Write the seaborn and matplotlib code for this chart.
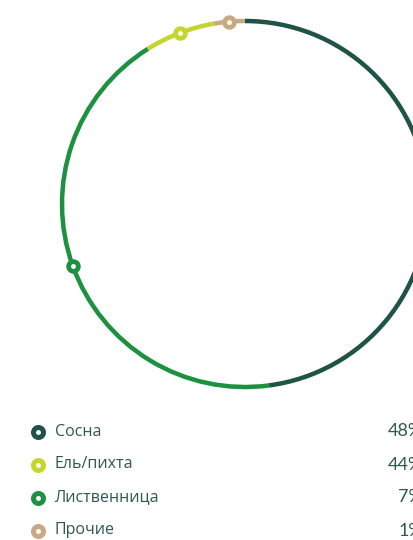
import numpy as np
import pandas as pd
import matplotlib
matplotlib.use("Agg")
import matplotlib.pyplot as plt
import seaborn as sns

# ---- data ----
categories = ["Сосна", "Ель/пихта", "Лиственница", "Прочие"]
percent_labels = ["48%", "44%", "7%", "1%"]
legend_colors = ["#1e5346", "#c4d52b", "#1c9140", "#c7a983"]
# ring as drawn in the picture (shares of the full circle, clockwise from top)
ring_shares = [47.9, 43.2, 6.2, 2.7]
ring_colors = ["#1e5346", "#1c9140", "#c4d52b", "#c7a983"]

sns.set_theme(style="white")
plt.rcParams["font.family"] = ["Open Sans", "DejaVu Sans"]

W, H = 414, 540
fig = plt.figure(figsize=(W / 100, H / 100), dpi=100)
ax = fig.add_axes([0, 0, 1, 1])

cx, cy, r, lw = 245, H - 204, 183, 4.5
ax.pie(ring_shares, colors=ring_colors, startangle=90, counterclock=False,
       center=(cx, cy), radius=r + lw / 2,
       wedgeprops=dict(width=lw, linewidth=0, antialiased=True))
ax.set_xlim(0, W)
ax.set_ylim(0, H)
ax.set_aspect("auto")
ax.axis("off")

# markers at segment midpoints
shares = np.array(ring_shares)
mids = (np.cumsum(shares) - shares / 2) / shares.sum() * 2 * np.pi
mx = cx + r * np.sin(mids)
my = cy + r * np.cos(mids)
for i in range(1, len(shares)):
    ax.plot(mx[i], my[i], marker="o", markersize=7.0, markeredgewidth=3.4,
            markerfacecolor="white", markeredgecolor=ring_colors[i], zorder=5)

# legend
leg_y0, step = H - 431.5, 33
df = pd.DataFrame({"label": categories, "x": 37.7,
                   "y": [leg_y0 - i * step for i in range(len(categories))]})
for i, row in df.iterrows():
    ax.plot(row["x"], row["y"], marker="o", markersize=7.2, markeredgewidth=3.6,
            markerfacecolor="white", markeredgecolor=legend_colors[i],
            zorder=5, clip_on=False)
    ax.text(55, row["y"], row["label"], fontsize=11.5, color="#2f5850",
            va="center", ha="left")
    ax.text(423, row["y"], percent_labels[i], fontsize=13, color="#2f5850",
            va="center", ha="right", family=["Lato", "DejaVu Sans"])

fig.savefig("out.png", dpi=100)
